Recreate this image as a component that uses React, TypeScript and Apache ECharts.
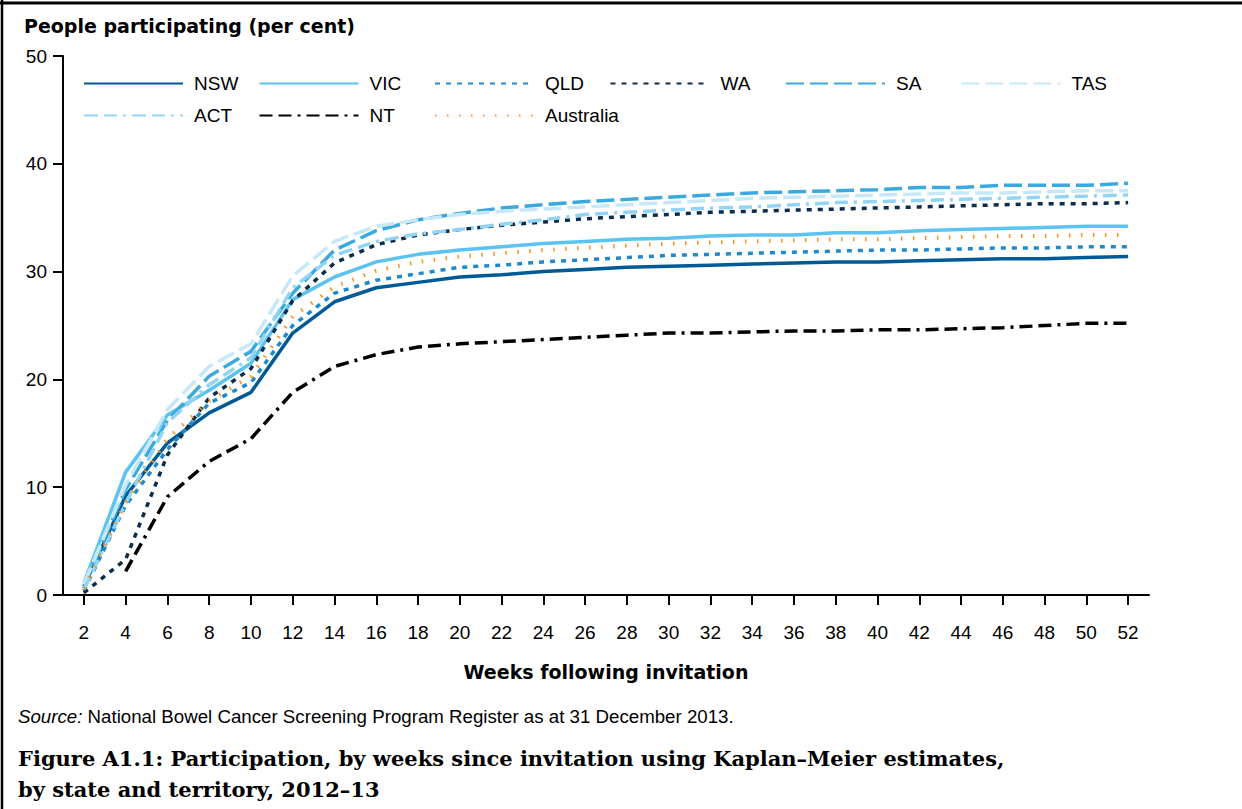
import React, { useEffect, useRef } from "react";
import * as echarts from "echarts";

const weeks = [2, 4, 6, 8, 10, 12, 14, 16, 18, 20, 22, 24, 26, 28, 30, 32, 34, 36, 38, 40, 42, 44, 46, 48, 50, 52];

const NSW = [0.8, 9.2, 14.1, 16.9, 18.8, 24.3, 27.2, 28.5, 29.0, 29.5, 29.7, 30.0, 30.2, 30.4, 30.5, 30.6, 30.7, 30.8, 30.9, 30.9, 31.0, 31.1, 31.2, 31.2, 31.3, 31.4];
const VIC = [1.1, 11.4, 16.7, 19.0, 21.5, 27.4, 29.5, 30.9, 31.6, 32.0, 32.3, 32.6, 32.8, 33.0, 33.1, 33.3, 33.4, 33.4, 33.6, 33.6, 33.8, 33.9, 34.0, 34.1, 34.2, 34.2];
const QLD = [0.4, 8.3, 13.5, 17.8, 19.7, 25.0, 28.0, 29.2, 29.8, 30.4, 30.6, 30.9, 31.1, 31.3, 31.5, 31.6, 31.7, 31.8, 31.9, 32.0, 32.0, 32.1, 32.2, 32.2, 32.3, 32.3];
const WA = [0.2, 3.3, 13.0, 18.3, 21.0, 27.3, 30.8, 32.5, 33.4, 33.9, 34.3, 34.6, 34.9, 35.1, 35.3, 35.5, 35.6, 35.7, 35.8, 35.9, 36.0, 36.1, 36.2, 36.3, 36.3, 36.4];
const SA = [0.8, 9.8, 16.2, 20.3, 22.6, 28.0, 32.0, 33.8, 34.8, 35.4, 35.9, 36.2, 36.5, 36.7, 36.9, 37.1, 37.3, 37.4, 37.5, 37.6, 37.8, 37.8, 38.0, 38.0, 38.0, 38.2];
const TAS = [1.0, 10.2, 17.2, 21.2, 23.3, 29.6, 32.8, 34.2, 34.8, 35.3, 35.6, 35.8, 36.0, 36.2, 36.4, 36.6, 36.8, 36.9, 37.0, 37.1, 37.2, 37.3, 37.3, 37.4, 37.5, 37.5];
const ACT = [0.5, 8.5, 16.0, 19.5, 22.0, 28.5, 31.5, 32.8, 33.5, 33.9, 34.4, 34.8, 35.3, 35.5, 35.7, 35.9, 36.0, 36.2, 36.4, 36.5, 36.6, 36.7, 36.8, 36.9, 37.0, 37.1];
const NT = [null, 2.2, 9.1, 12.4, 14.5, 18.8, 21.2, 22.3, 23.0, 23.3, 23.5, 23.7, 23.9, 24.1, 24.3, 24.3, 24.4, 24.5, 24.5, 24.6, 24.6, 24.7, 24.8, 25.0, 25.2, 25.2];
const Australia = [0.6, 8.6, 14.5, 18.0, 20.3, 25.8, 28.6, 30.1, 30.9, 31.4, 31.7, 32.0, 32.2, 32.4, 32.6, 32.7, 32.8, 32.9, 33.0, 33.0, 33.1, 33.2, 33.3, 33.3, 33.4, 33.4];

const SANS = "'Liberation Sans', Arial, sans-serif";
const BOLD = "'DejaVu Sans', 'Liberation Sans', sans-serif";
const SERIF = "'DejaVu Serif', 'Liberation Serif', serif";

const seriesDefs = [
  { name: "NSW", data: NSW, color: "#005a96", type: "solid" as any, width: 3.5, col: 0, row: 0 },
  { name: "VIC", data: VIC, color: "#5bc3f0", type: "solid" as any, width: 3.5, col: 1, row: 0 },
  { name: "QLD", data: QLD, color: "#1f8acb", type: [5, 6] as any, width: 3.5, col: 2, row: 0 },
  { name: "WA", data: WA, color: "#0c2d4c", type: [5, 6] as any, width: 3.5, col: 3, row: 0 },
  { name: "SA", data: SA, color: "#3aa9df", type: [18, 6] as any, width: 3.5, col: 4, row: 0 },
  { name: "TAS", data: TAS, color: "#c7e8f8", type: [18, 6] as any, width: 3.5, col: 5, row: 0 },
  { name: "ACT", data: ACT, color: "#92d4f4", type: [14, 6, 13, 6, 3, 6] as any, width: 3.5, col: 0, row: 1 },
  { name: "NT", data: NT, color: "#000000", type: [13, 6, 13, 6, 3, 6] as any, width: 3.5, col: 1, row: 1 },
  { name: "Australia", data: Australia, color: "#f7941d", type: [1.5, 10.5] as any, width: 4, col: 2, row: 1 },
];

export default function App() {
  const ref = useRef<HTMLDivElement>(null);
  useEffect(() => {
    if (!ref.current) return;
    const chart = echarts.init(ref.current, null, { renderer: "svg" });

    const legends = seriesDefs.map((s) => ({
      show: true,
      data: [{ name: s.name, itemStyle: { opacity: 0 } }],
      left: 83 + s.col * 175.5,
      top: s.row === 0 ? 74 : 106,
      itemWidth: 99,
      itemHeight: 14,
      padding: 0,
      itemStyle: { opacity: 0 },
      formatter: "{a|{name}}",
      textStyle: {
        color: "#000",
        fontSize: 19,
        fontFamily: SANS,
        rich: { a: { fontSize: 19, fontFamily: SANS, color: "#000", padding: [0, 0, 0, 6] } },
      },
      selectedMode: false,
    }));

    const option: any = {
      animation: false,
      backgroundColor: "#ffffff",
      legend: legends,
      grid: { left: 63, right: 93, top: 56, bottom: 214, containLabel: false },
      xAxis: {
        type: "value",
        min: 1,
        max: 53,
        name: "Weeks following invitation",
        nameLocation: "middle",
        nameGap: 67,
        nameTextStyle: { fontFamily: BOLD, fontWeight: "bold", fontSize: 19, color: "#000" },
        axisLine: { show: true, lineStyle: { color: "#000", width: 2 } },
        axisTick: { show: true, length: 10, lineStyle: { color: "#000", width: 2 }, customValues: weeks },
        axisLabel: { customValues: weeks, fontSize: 19, fontFamily: SANS, color: "#000", margin: 28 },
        splitLine: { show: false },
      },
      yAxis: {
        type: "value",
        min: 0,
        max: 50,
        interval: 10,
        axisLine: { show: true, lineStyle: { color: "#000", width: 2 } },
        axisTick: { show: true, length: 10, lineStyle: { color: "#000", width: 2 } },
        axisLabel: { fontSize: 19, fontFamily: SANS, color: "#000", margin: 16 },
        splitLine: { show: false },
      },
      series: seriesDefs.map((s) => ({
        name: s.name,
        type: "line",
        showSymbol: false,
        symbol: "none",
        symbolSize: 0,
        connectNulls: false,
        data: weeks.map((w, i) => [w, s.data[i]]),
        lineStyle: { color: s.color, width: s.width, type: s.type, cap: "butt" },
        itemStyle: { color: s.color },
        emphasis: { disabled: true },
      })),
      graphic: [
        { type: "line", shape: { x1: 0, y1: 3, x2: 1242, y2: 3 }, style: { stroke: "#000", lineWidth: 3 } },
        { type: "line", shape: { x1: 2, y1: 0, x2: 2, y2: 809 }, style: { stroke: "#000", lineWidth: 2.5 } },
        {
          type: "text",
          left: 24,
          top: 16,
          style: { text: "People participating (per cent)", fontFamily: BOLD, fontWeight: "bold", fontSize: 19, fill: "#000" },
        },
        {
          type: "text",
          left: 18,
          top: 707,
          style: {
            text: "{i|Source:} National Bowel Cancer Screening Program Register as at 31 December 2013.",
            fontFamily: SANS,
            fontSize: 18.7,
            fill: "#000",
            rich: { i: { fontStyle: "italic", fontFamily: SANS, fontSize: 18.7, fill: "#000" } },
          },
        },
        {
          type: "text",
          left: 18,
          top: 743,
          style: {
            text: "Figure A1.1: Participation, by weeks since invitation using Kaplan\u2013Meier estimates,\nby state and territory, 2012\u201313",
            fontFamily: SERIF,
            fontWeight: "bold",
            fontSize: 21,
            lineHeight: 31,
            fill: "#000",
          },
        },
      ],
    };
    chart.setOption(option);
    return () => chart.dispose();
  }, []);
  return (
    <div
      ref={ref}
      style={{ position: "absolute", left: 0, top: 0, width: 1242, height: 809, background: "#fff" }}
    />
  );
}
